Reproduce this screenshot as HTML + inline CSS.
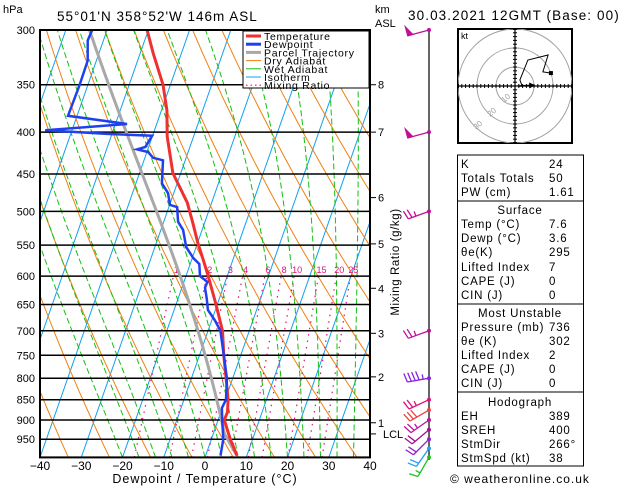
<!DOCTYPE html>
<html><head><meta charset="utf-8"><style>
body{margin:0;background:#fff;}
svg{display:block;font-family:"Liberation Sans",sans-serif;}
</style></head><body>
<svg id="chart" width="629" height="486" viewBox="0 0 629 486" xmlns="http://www.w3.org/2000/svg">
<defs><clipPath id="plotclip"><rect x="40" y="30" width="330" height="427.4"/></clipPath>
<clipPath id="hodoclip"><rect x="458" y="29" width="114" height="114"/></clipPath></defs>
<g id="bg" clip-path="url(#plotclip)"></g>
<g id="isobars"></g>
<g id="profiles" clip-path="url(#plotclip)"></g>
<rect x="40" y="30" width="330" height="427.4" fill="none" stroke="#000" stroke-width="2"/>
<g id="labels"></g>
<text x="3" y="13" font-size="11">hPa</text>
<text x="57" y="21" font-size="13.5" letter-spacing="1">55°01'N  358°52'W  146m  ASL</text>
<text x="375" y="13" font-size="11">km</text>
<text x="375" y="27" font-size="11">ASL</text>
<text x="408" y="20" font-size="13.5" letter-spacing="1.1">30.03.2021  12GMT  (Base: 00)</text>
<text x="205" y="483" font-size="12.5" letter-spacing="1" text-anchor="middle">Dewpoint / Temperature (°C)</text>
<text transform="translate(399,262) rotate(-90)" font-size="11.5" letter-spacing="0.6" text-anchor="middle">Mixing Ratio (g/kg)</text>
<g id="legend">
<rect x="243" y="31" width="126" height="57" fill="#fff" stroke="#000" stroke-width="1"/>
</g>
<g id="barbs"></g>
<g id="hodo"></g>
<g id="table"></g>
<text x="450" y="483" font-size="12" letter-spacing="1">© weatheronline.co.uk</text>
</svg>
<script>
const tempP=[995,950,900,880,850,800,750,700,650,600,573,547,517,488,449,405,376,350,320,300];
const tempT=[7.6,4.6,1.5,1.6,0.7,-1.6,-4.1,-6.5,-10.3,-14.6,-17.2,-19.9,-22.8,-25.9,-31.9,-36.4,-38.7,-41.8,-46.9,-50.3];
const dewP=[995,950,900,870,850,800,750,700,680,660,640,620,610,600,580,570,553,527,515,494,491,475,462,433,430,423,420,417,404,402,398,391,382,350,327,309,300];
const dewT=[3.6,2.9,1,-0.1,0.2,-1.4,-4.1,-7,-9.2,-11.8,-13,-14.4,-14.3,-16.6,-17.8,-19.8,-22.4,-24.6,-26.5,-28,-29.9,-31.4,-33.7,-35.4,-38,-39.7,-42.6,-40.8,-40.1,-51.2,-66.5,-47.2,-62.2,-62,-62.1,-63.8,-63.6];
const pressureTicks=[300,350,400,450,500,550,600,650,700,750,800,850,900,950];
const tempTicks=[-40,-30,-20,-10,0,10,20,30,40];
const kmLevels=[1,2,3,4,5,6,7,8];
const kmPressures=[907,797,705,621,548,481,400,350];
const mixRatios=[1,2,3,4,6,8,10,15,20,25];
const windP=[300,400,500,700,800,850,875,900,925,950,975,1000];
const windDir=[255,255,250,250,260,245,240,235,230,225,215,210];
const windSpd=[50,50,25,25,45,25,30,25,20,20,20,15];
const windCol=["#c0109a","#c0109a","#c0109a","#c0109a","#8a20e0","#e0107a","#f04040","#c0109a","#a01090","#9020d0","#20a0f0","#20c020"];
const hodoU=[4,2.6,6.8,17.4,14.7,18.9];
const hodoV=[-0.7,3.2,13.7,16.3,7.4,6.8];
const stormU=[2,8.5];
const stormV=[0,0.3];
const tableRows=[["K","24"],["Totals Totals","50"],["PW (cm)","1.61"],["#Surface",""],["Temp (°C)","7.6"],["Dewp (°C)","3.6"],["θe(K)","295"],["Lifted Index","7"],["CAPE (J)","0"],["CIN (J)","0"],["#Most Unstable",""],["Pressure (mb)","736"],["θe (K)","302"],["Lifted Index","2"],["CAPE (J)","0"],["CIN (J)","0"],["#Hodograph",""],["EH","389"],["SREH","400"],["StmDir","266°"],["StmSpd (kt)","38"]];

const NS="http://www.w3.org/2000/svg";
function yP(p){return 30+355*Math.log(p/300);}
function xT(T,p){return 40+4.125*(T+40)+0.35*(457.4-yP(p));}
function mk(tag,attrs,parent){const e=document.createElementNS(NS,tag);for(const k in attrs)e.setAttribute(k,attrs[k]);parent.appendChild(e);return e;}
function poly(pts,parent,attrs){attrs.points=pts.map(q=>q[0].toFixed(1)+","+q[1].toFixed(1)).join(" ");attrs.fill="none";return mk("polyline",attrs,parent);}
const bg=document.getElementById("bg");
for(let T=-120;T<=40;T+=10){
 const l=mk("line",{x1:xT(T,1000),y1:yP(1000),x2:xT(T,300),y2:yP(300),stroke:"#10a0f0","stroke-width":1},bg);
 
 
}
for(let th=240;th<=480;th+=10){
 const pts=[];for(let p=1000;p>=300;p-=10){const T=th*Math.pow(p/1000,0.286)-273.15;pts.push([xT(T,p),yP(p)]);}
 const e=poly(pts,bg,{stroke:"#f08010","stroke-width":1});
 
 
}
function es(Tc){return 6.112*Math.exp(17.67*Tc/(Tc+243.5));}
function moistStep(Tc,p,dp){const T=Tc+273.15,e=es(Tc),rs=0.622*e/(p-e),Lv=2.5e6,Rd=287,cp=1004;
 const g=(Rd*T+Lv*rs)/(p*(cp+Lv*Lv*rs*0.622/(Rd*T*T)));return Tc+g*dp;}
for(let tw=-20;tw<=40;tw+=4){
 const pts=[];let T=tw;for(let p=1000;p>=300;p-=5){pts.push([xT(T,p),yP(p)]);T=moistStep(T,p,-5);}
 const e=poly(pts,bg,{stroke:"#10c010","stroke-width":1,"stroke-dasharray":"6,3"});
 
 
}
function tdFromW(w,p){const e=p*w/(622+w);const a=Math.log(e/6.112);return 243.5*a/(17.67-a);}
mixRatios.forEach(w=>{
 const e=mk("line",{x1:xT(tdFromW(w,1000),1000),y1:yP(1000),x2:xT(tdFromW(w,600),600),y2:yP(600),stroke:"#e0107a","stroke-width":1.2,"stroke-dasharray":"1.5,5"},bg);
 
 
 const t=mk("text",{x:xT(tdFromW(w,600),600)+3,y:yP(600)-3,"font-size":9,fill:"#e0107a","text-anchor":"middle"},bg);t.textContent=w;
 
 
});
const iso=document.getElementById("isobars"),lab=document.getElementById("labels");
pressureTicks.forEach(p=>{
 if(p>300){const l=mk("line",{x1:40,x2:370,y1:yP(p),y2:yP(p),stroke:"#000","stroke-width":1.5},iso);
 
 }
 const t=mk("text",{x:35,y:yP(p)+4,"font-size":11,"text-anchor":"end"},lab);t.textContent=p;
 
 
});
tempTicks.forEach(T=>{
 const t=mk("text",{x:xT(T,1000),y:470,"font-size":12,"text-anchor":"middle"},lab);t.textContent=(T<0?"−":"")+Math.abs(T);
 
 
});
kmLevels.forEach((k,i)=>{
 const y=yP(kmPressures[i]);
 const l=mk("line",{x1:370,x2:376,y1:y,y2:y,stroke:"#000","stroke-width":1},lab);
 
 
 const t=mk("text",{x:378,y:y+4,"font-size":11},lab);t.textContent=k;
 
 
});
{const y=yP(936);mk("line",{x1:370,x2:376,y1:y,y2:y,stroke:"#000"},lab);const t=mk("text",{x:383,y:y+4,"font-size":11},lab);t.textContent="LCL";
 
 }
const prof=document.getElementById("profiles");
{const pts=[];let p=tempP[0],T=tempT[0];const w=622*es(dewT[0])/(p-es(dewT[0]));let moist=false;
 for(;p>=300;p-=1){pts.push([xT(T,p),yP(p)]);
  if(!moist){T=(T+273.15)*Math.pow((p-1)/p,0.286)-273.15;if(T<=tdFromW(w,p-1))moist=true;}
  else T=moistStep(T,p,-1);}
 const e=poly(pts,prof,{stroke:"#a8a8a8","stroke-width":3});
 
 }
{const e=poly(tempP.map((p,i)=>[xT(tempT[i],p),yP(p)]),prof,{stroke:"#f03030","stroke-width":3});
 
 }
{const e=poly(dewP.map((p,i)=>[xT(dewT[i],p),yP(p)]),prof,{stroke:"#2040f0","stroke-width":2.5});
 
 }
const leg=document.getElementById("legend");
const legItems=[["Temperature","#f03030",3,""],["Dewpoint","#2040f0",3,""],["Parcel Trajectory","#a8a8a8",3,""],["Dry Adiabat","#f08010",1,""],["Wet Adiabat","#10c010",1,""],["Isotherm","#10a0f0",1,""],["Mixing Ratio","#e0107a",1.2,"1.5,3"]];
legItems.forEach((it,i)=>{const y=36+i*8.2;
 const l=mk("line",{x1:246,x2:261,y1:y,y2:y,stroke:it[1],"stroke-width":it[2],"stroke-dasharray":it[3]||"none"},leg);
 
 
 const t=mk("text",{x:264,y:y+4,"font-size":10.5,"letter-spacing":0.7},leg);t.textContent=it[0];
 
 });
const bb=document.getElementById("barbs");
mk("line",{x1:429,x2:429,y1:30,y2:460,stroke:"#000","stroke-width":1.2},bb);
windP.forEach((p,i)=>{const y=yP(p),x=429,c=windCol[i],d=windDir[i]*Math.PI/180;
 const ux=Math.sin(d),uy=-Math.cos(d),L=22;const ex=x+ux*L,ey=y+uy*L;
 const g=mk("g",{stroke:c,fill:c,"stroke-width":1.3},bb);
 
 
 mk("line",{x1:x,y1:y,x2:ex,y2:ey},g);mk("circle",{cx:x,cy:y,r:2,stroke:"none"},g);
 let s=windSpd[i],k=0;const px=-uy,py=ux;
 const sx=(py<0?px:-px),sy=(py<0?py:-py);
 while(s>=50){const ax=ex-ux*k*4,ay=ey-uy*k*4;mk("polygon",{points:`${ax},${ay} ${ax+sx*9},${ay+sy*9} ${ax-ux*5},${ay-uy*5}`},g);k+=1.5;s-=50;}
 while(s>=10){const ax=ex-ux*k*4,ay=ey-uy*k*4;mk("line",{x1:ax,y1:ay,x2:ax+sx*9+ux*2,y2:ay+sy*9+uy*2},g);k++;s-=10;}
 if(s>=5){const ax=ex-ux*k*4,ay=ey-uy*k*4;mk("line",{x1:ax,y1:ay,x2:ax+sx*5,y2:ay+sy*5},g);}
});
const hd=document.getElementById("hodo");const hcx=515,hcy=86,hs=1.9;
mk("rect",{x:458,y:29,width:114,height:114,fill:"#fff",stroke:"#000","stroke-width":2},hd);
const hc=mk("g",{"clip-path":"url(#hodoclip)"},hd);
[10,20,30].forEach(r=>{const c=mk("circle",{cx:hcx,cy:hcy,r:r*hs,fill:"none",stroke:"#a0a0a0","stroke-width":1},hc);
 
 });
mk("line",{x1:458,x2:572,y1:hcy,y2:hcy,stroke:"#000","stroke-width":1.2},hd);
mk("line",{x1:hcx,x2:hcx,y1:29,y2:143,stroke:"#000","stroke-width":1.2},hd);
for(let v=-30;v<=30;v+=2){mk("line",{x1:hcx+v*hs,x2:hcx+v*hs,y1:hcy-2,y2:hcy+2,stroke:"#000"},hd);mk("line",{y1:hcy+v*hs,y2:hcy+v*hs,x1:hcx-2,x2:hcx+2,stroke:"#000"},hd);}
[["10",504,103],["20",490,117],["30",476,130]].forEach(a=>{const t=mk("text",{x:a[1],y:a[2],"font-size":8,fill:"#a0a0a0",transform:`rotate(-40 ${a[1]} ${a[2]})`},hd);t.textContent=a[0];});
{const t=mk("text",{x:461,y:39,"font-size":9},hd);t.textContent="kt";}
{const e=poly(hodoU.map((u,i)=>[hcx+u*hs,hcy-hodoV[i]*hs]),hd,{stroke:"#000","stroke-width":1});
 
 }
mk("rect",{x:hcx+hodoU[5]*hs-2,y:hcy-hodoV[5]*hs-2,width:4,height:4},hd);
{const x1=hcx+stormU[0]*hs,y1=hcy-stormV[0]*hs,x2=hcx+stormU[1]*hs,y2=hcy-stormV[1]*hs;
 mk("line",{x1,y1,x2,y2,stroke:"#000","stroke-width":1.5},hd);
 mk("polygon",{points:`${x2+4},${y2} ${x2-2},${y2-3} ${x2-2},${y2+3}`},hd);}
const tb=document.getElementById("table");
const sep=[155,201,304,392,466];
for(let i=0;i<4;i++){const r=mk("rect",{x:457.5,y:sep[i],width:126,height:sep[i+1]-sep[i],fill:"#fff",stroke:"#000","stroke-width":1},tb);
 
 }
let ty=[168,182,196,214,228,242,256,271,285,299,317,331,345,359,373,387,406,420,434,448,462];
tableRows.forEach((r,i)=>{
 if(r[0][0]=="#"){const t=mk("text",{x:520,y:ty[i],"font-size":11.5,"letter-spacing":0.8,"text-anchor":"middle"},tb);t.textContent=r[0].slice(1);
  
  }
 else{const t=mk("text",{x:461,y:ty[i],"font-size":11.5,"letter-spacing":0.8},tb);t.textContent=r[0];
  
  
  const v=mk("text",{x:549,y:ty[i],"font-size":11.5,"letter-spacing":0.8},tb);v.textContent=r[1];
  
  }
});
</script>
</body></html>
